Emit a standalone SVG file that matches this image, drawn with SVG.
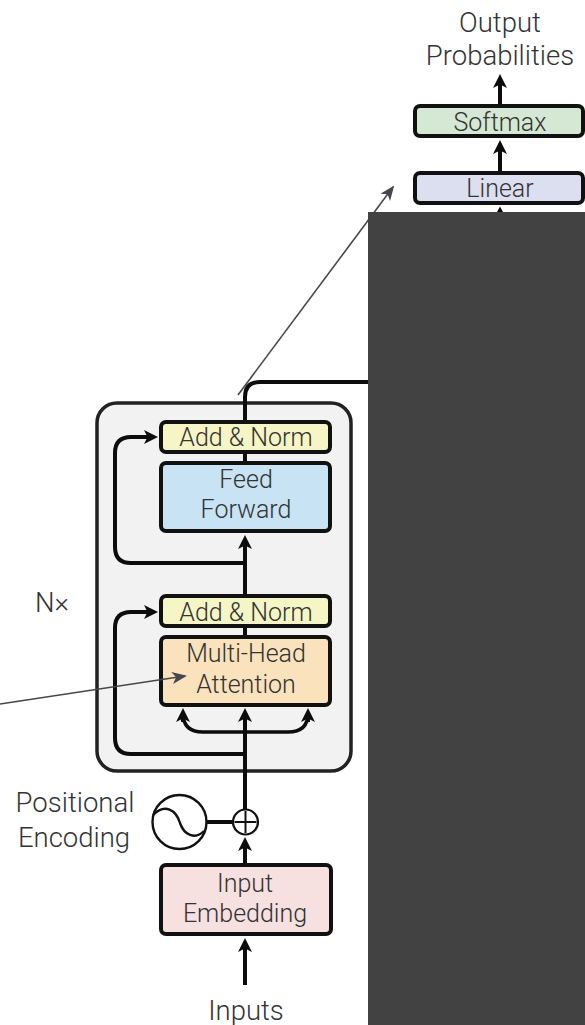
<svg xmlns="http://www.w3.org/2000/svg" width="585" height="1025" viewBox="0 0 585 1025">
<defs>
<marker id="ah" markerUnits="userSpaceOnUse" markerWidth="16" markerHeight="16" refX="9" refY="8" orient="auto"><path d="M0 1L14 8L0 15L3.5 8Z" fill="#0c0c0c"/></marker>
<marker id="thin" markerUnits="userSpaceOnUse" markerWidth="18" markerHeight="14" refX="13" refY="7" orient="auto"><path d="M0 1L15 7L0 13L4 7Z" fill="#44484c"/></marker>
</defs>
<style>
text{font-family:"Roboto","Liberation Sans",Arial,sans-serif;font-weight:300;font-size:25px;fill:#333;text-anchor:middle}
.big{font-size:27.5px}
.b{stroke:#111;stroke-width:4}
.c{fill:none;stroke:#0c0c0c;stroke-width:4}
.t{fill:none;stroke:#44484c;stroke-width:1.6}
</style>
<rect width="585" height="1025" fill="#fff"/>
<g id="encoder-frame"><rect x="97" y="403" width="254" height="368" rx="20" fill="#f2f2f3" stroke="#222" stroke-width="3.5"/></g>
<g id="connectors">
<path class="c" d="M245 403V397Q245 382 260 382H368"/>
<path class="c" d="M245 403V423"/>
<path class="c" d="M245 452V463"/>
<path class="c" d="M245 596V540" marker-end="url(#ah)"/>
<path class="c" d="M245 563H131Q115 563 115 547V453Q115 437 131 437H153" marker-end="url(#ah)"/>
<path class="c" d="M245 626V637"/>
<path class="c" d="M245 754H131Q115 754 115 738V628Q115 612 131 612H153" marker-end="url(#ah)"/>
<path class="c" d="M245 810V713" marker-end="url(#ah)"/>
<path class="c" d="M183 713Q183 732 203 732H288Q308 732 308 713" style="stroke-width:3.5"/>
<path class="c" d="M183 722V713" marker-end="url(#ah)"/>
<path class="c" d="M308 722V713" marker-end="url(#ah)"/>
<path class="c" d="M245 866V842" marker-end="url(#ah)"/>
<path class="c" d="M245 985V943" marker-end="url(#ah)"/>
<path class="c" d="M207 822H233"/>
<path class="c" d="M500 104V79" marker-end="url(#ah)"/>
<path class="c" d="M500 172V145" marker-end="url(#ah)"/>
<path d="M500 206.500L497 212H503Z" fill="#0c0c0c"/>
</g>
<g id="softmax"><rect class="b" x="415" y="106" width="168" height="30" rx="5" fill="#d4e8d4"/><text x="500" y="131">Softmax</text></g>
<g id="linear"><rect class="b" x="415" y="173" width="168" height="30" rx="5" fill="#dcdff0"/><text x="500" y="197">Linear</text></g>
<g id="add-norm-2"><rect class="b" x="161" y="422" width="169" height="30" rx="5" fill="#f5f5c5"/><text x="246" y="446">Add &amp; Norm</text></g>
<g id="feed-forward"><rect class="b" x="161" y="463" width="169" height="68" rx="5" fill="#c7e3f4"/><text x="246" y="488">Feed</text><text x="246" y="518">Forward</text></g>
<g id="add-norm-1"><rect class="b" x="161" y="596" width="169" height="30" rx="5" fill="#f4f6c6"/><text x="246" y="621">Add &amp; Norm</text></g>
<g id="multi-head"><rect class="b" x="161" y="637" width="169" height="68" rx="5" fill="#fae2bd"/><text x="246" y="662">Multi-Head</text><text x="246" y="693">Attention</text></g>
<g id="input-embedding"><rect class="b" x="161" y="865" width="170" height="69" rx="5" fill="#f6e0e0"/><text x="245" y="892">Input</text><text x="245" y="922">Embedding</text></g>
<g id="add-circle"><circle cx="245.500" cy="822" r="12.500" fill="#fff" stroke="#111" stroke-width="2.2"/><path d="M245.500 811V833M234.500 822H256.500" stroke="#111" stroke-width="2"/></g>
<g id="positional-wave"><circle cx="179.500" cy="822" r="27" fill="#fff" stroke="#111" stroke-width="2.4"/><path d="M153 815C165 803 176 810 180 823C184 835 195 840 204 831" fill="none" stroke="#111" stroke-width="2.400"/></g>
<g id="labels">
<text class="big" x="500" y="32">Output</text><text class="big" x="500" y="65">Probabilities</text>
<text class="big" x="52" y="612">N×</text>
<text class="big" x="75" y="812">Positional</text><text class="big" x="74" y="847">Encoding</text>
<text class="big" x="246" y="1020">Inputs</text>
</g>
<g id="annotation-arrows">
<path class="t" d="M238 395L393 187" marker-end="url(#thin)"/>
<path class="t" d="M0 704L185 676" marker-end="url(#thin)"/>
</g>
<g id="cover"><rect x="368" y="212" width="217" height="813" fill="#424242"/></g>
</svg>
